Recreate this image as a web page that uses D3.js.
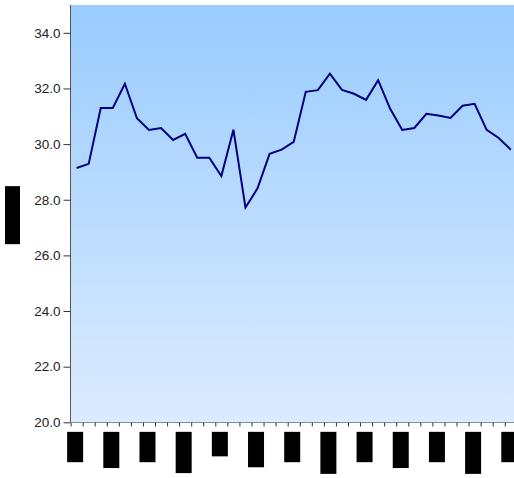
<!DOCTYPE html>
<html>
<head>
<meta charset="utf-8">
<script src="https://cdn.jsdelivr.net/npm/d3@7"></script>
<style>
  html, body { margin: 0; padding: 0; background: #fff; }
  svg { display: block; }
</style>
</head>
<body>
<svg id="chart" width="514" height="478"></svg>
<script>
const values = [29.14, 29.29, 31.30, 31.30, 32.17, 30.93, 30.51, 30.58, 30.15, 30.37,
                29.51, 29.51, 28.85, 30.52, 27.72, 28.41, 29.65, 29.80, 30.08, 31.88,
                31.94, 32.53, 31.95, 31.81, 31.59, 32.30, 31.27, 30.51, 30.58, 31.09,
                31.03, 30.94, 31.38, 31.45, 30.51, 30.22, 29.80];
const tickLabels = ["1/2/04", "4/12/04", "7/5/04", "10/11/04", "1/3/5", "4/11/05", "7/4/05",
                    "10/10/05", "1/2/06", "4/10/06", "7/3/06", "10/16/06", "1/1/07"];
const yTicks = [20, 22, 24, 26, 28, 30, 32, 34];
const yTitle = "Price (USD)";

(function () {
const svg = d3.select("#chart");
const pLeft = 70.6, pTop = 5, pBottom = 422.3;
const step = 12.06;
const n = values.length;
const pRight = pLeft + n * step;

const x = d3.scaleBand().domain(d3.range(n)).range([pLeft, pRight]).paddingInner(0).paddingOuter(0);
const y = d3.scaleLinear().domain([20, 35]).range([pBottom, pTop]);

const defs = svg.append("defs");
const grad = defs.append("linearGradient").attr("id", "bg").attr("x1", 0).attr("y1", 0).attr("x2", 0).attr("y2", 1);
grad.append("stop").attr("offset", "0%").attr("stop-color", "#99ccff");
grad.append("stop").attr("offset", "100%").attr("stop-color", "#ddebff");

svg.append("rect")
  .attr("x", pLeft).attr("y", pTop)
  .attr("width", pRight - pLeft).attr("height", pBottom - pTop)
  .attr("fill", "url(#bg)");

// Y axis
const yAxis = d3.axisLeft(y).tickValues(yTicks).tickFormat(d3.format(".1f")).tickSize(7).tickPadding(3);
const gy = svg.append("g").attr("transform", `translate(${Math.round(pLeft) - 0.5},0)`).call(yAxis);
gy.select(".domain").attr("stroke", "#555").attr("d", `M0,${pTop}V${pBottom}`);
gy.selectAll(".tick line").attr("stroke", "#333");
gy.selectAll(".tick text").attr("font-family", "Arial, 'Liberation Sans', sans-serif")
  .attr("font-size", "13.5px").attr("fill", "#222");

// X axis (ticks between categories)
const xTickScale = d3.scaleLinear().domain([0, n]).range([pLeft, pRight]);
const xAxis = d3.axisBottom(xTickScale).tickValues(d3.range(n + 1)).tickSize(4).tickFormat("");
const gx = svg.append("g").attr("transform", `translate(0,${Math.round(pBottom) + 0.5})`).call(xAxis);
gx.select(".domain").attr("stroke", "#7f8fa6").attr("d", `M${pLeft},0H${pRight}`);
gx.selectAll(".tick line").attr("stroke", "#333");

// Line
const line = d3.line().x((d, i) => x(i) + x.bandwidth() / 2).y(d => y(d));
svg.append("path").datum(values)
  .attr("d", line)
  .attr("fill", "none")
  .attr("stroke", "#000080")
  .attr("stroke-width", 2)
  .attr("stroke-linejoin", "miter");

// X tick labels (rotated, boxed)
const labelFont = "Arial, 'Liberation Sans', sans-serif";
tickLabels.forEach((lab, k) => {
  const idx = k * 3;
  const cx = x(idx) + x.bandwidth() / 2 - 1.5;
  const g = svg.append("g").attr("transform", `translate(${cx},432) rotate(-90)`);
  const t = g.append("text")
    .attr("x", -0.5).attr("y", 0).attr("dy", "0.35em")
    .attr("text-anchor", "end")
    .attr("font-family", labelFont).attr("font-size", "10.5px").attr("fill", "#000")
    .text(lab);
  const bb = t.node().getBBox();
  g.insert("rect", "text")
    .attr("x", bb.x - 0.5).attr("y", -8)
    .attr("width", bb.width + 1).attr("height", 16)
    .attr("fill", "#000");
});

// Y title (rotated, boxed)
const gt = svg.append("g").attr("transform", `translate(12.5,${(pTop + pBottom) / 2 + 1.5}) rotate(-90)`);
const tt = gt.append("text")
  .attr("x", 0).attr("y", 0).attr("dy", "0.35em")
  .attr("text-anchor", "middle")
  .attr("font-family", labelFont).attr("font-size", "10.5px").attr("fill", "#000")
  .text(yTitle);
const tb = tt.node().getBBox();
gt.insert("rect", "text")
  .attr("x", tb.x - 1).attr("y", -7.5)
  .attr("width", tb.width + 2).attr("height", 15)
  .attr("fill", "#000");
})();
</script>
</body>
</html>
